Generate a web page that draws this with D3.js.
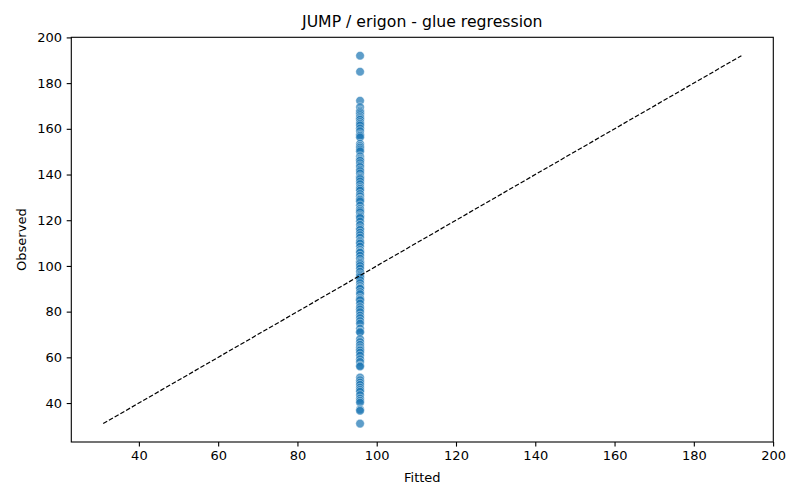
<!DOCTYPE html>
<html>
<head>
<meta charset="utf-8">
<script src="https://cdn.jsdelivr.net/npm/d3@7"></script>
<style>
  body { margin: 0; background: #fff; }
  text { font-family: "DejaVu Sans", sans-serif; fill: #000; }
</style>
</head>
<body>
<script>
var fittedValue = 95.8
var observed = [192, 185, 172.3, 169.5, 168, 167.4, 166.8, 166, 165.2, 164.6, 164, 163, 162.2, 161.5, 160.2,
  159, 157.6, 157, 156.3, 153.5, 152.5, 151.8, 151, 150.2, 148, 147, 146.4, 146, 145, 144, 143.3, 142.2,
  141.5, 140.5, 139.2, 138.6, 138, 137, 135.8, 134.5, 133.8, 133, 131.5, 130.5, 129.4, 129, 128.3, 126.5,
  125, 124.2, 123.5, 122.2, 121.6, 121, 119.5, 118, 116.5, 115.8, 114.6, 113.5, 112.4, 111, 110.4, 109.8,
  108.5, 107, 106.2, 105.8, 104.5, 103.2, 102, 101.4, 100.8, 100, 98.9, 97.5, 96.3, 95.6, 95, 93.8, 92.5,
  91.2, 90.4, 90, 88.6, 87.7, 86, 85.4, 85, 83.6, 82, 81, 79.8, 78.3, 77.2, 75.9, 74.8, 72.6, 71.3, 71,
  68, 66.7, 65.5, 64.4, 63.5, 63, 62.1, 60.8, 59.2, 58, 56.4, 56, 51.2, 50, 49, 48, 46.8, 45.8, 45,
  43.5, 42, 41, 40.2, 37.2, 36.6, 31]
var xTicks = [40, 60, 80, 100, 120, 140, 160, 180, 200]
var yTicks = [40, 60, 80, 100, 120, 140, 160, 180, 200]
var title = "JUMP / erigon - glue regression"

var margin = { top: 37.3, right: 26.7, bottom: 58, left: 71.3 },
    width = 800 - margin.left - margin.right,
    height = 500 - margin.top - margin.bottom

var svg = d3.select("body").append("svg")
    .attr("width", 800)
    .attr("height", 500)

var g = svg.append("g")
    .attr("transform", "translate(" + margin.left + "," + margin.top + ")")

var data = observed.map(function(d) { return { fitted: fittedValue, observed: d } })

// identity line from overall min to max, matplotlib-style 5% padding
var lo = d3.min([d3.min(observed), fittedValue])
var hi = d3.max([d3.max(observed), fittedValue])
var pad = (hi - lo) * 0.05

var x = d3.scaleLinear().domain([lo - pad, hi + pad]).range([0, width])
var y = d3.scaleLinear().domain([lo - pad, hi + pad]).range([height, 0])

g.selectAll(".dot")
    .data(data)
    .enter().append("circle")
    .attr("class", "dot")
    .attr("cx", function(d) { return x(d.fitted) })
    .attr("cy", function(d) { return y(d.observed) })
    .attr("r", 4.3)
    .style("fill", "#1f77b4")
    .style("fill-opacity", 0.72)
    .style("stroke", "#fff")
    .style("stroke-opacity", 0.6)
    .style("stroke-width", 0.7)

g.append("line")
    .attr("x1", x(lo)).attr("y1", y(lo))
    .attr("x2", x(hi)).attr("y2", y(hi))
    .style("stroke", "#000")
    .style("stroke-width", 1.2)
    .style("stroke-dasharray", "4.6,2")

var xAxis = g.append("g")
    .attr("transform", "translate(0," + height + ")")
    .call(d3.axisBottom(x).tickValues(xTicks).tickSize(4.6).tickPadding(4.6).tickFormat(d3.format("d")))
var yAxis = g.append("g")
    .call(d3.axisLeft(y).tickValues(yTicks).tickSize(4.6).tickPadding(4.6).tickFormat(d3.format("d")))

svg.selectAll(".tick text").style("font-size", "13px").style("font-family", "DejaVu Sans")
svg.selectAll(".domain").remove()
svg.selectAll(".tick line").style("stroke", "#000").style("stroke-width", 1.1)

g.append("rect")
    .attr("width", width).attr("height", height)
    .style("fill", "none").style("stroke", "#000").style("stroke-width", 1.1)

svg.append("text")
    .attr("x", margin.left + width / 2).attr("y", 27)
    .style("text-anchor", "middle").style("font-size", "15.7px")
    .text(title)

svg.append("text")
    .attr("x", margin.left + width / 2).attr("y", 482)
    .style("text-anchor", "middle").style("font-size", "13px")
    .text("Fitted")

svg.append("text")
    .attr("transform", "translate(26," + (margin.top + height / 2) + ") rotate(-90)")
    .style("text-anchor", "middle").style("font-size", "13px")
    .text("Observed")
</script>
</body>
</html>
